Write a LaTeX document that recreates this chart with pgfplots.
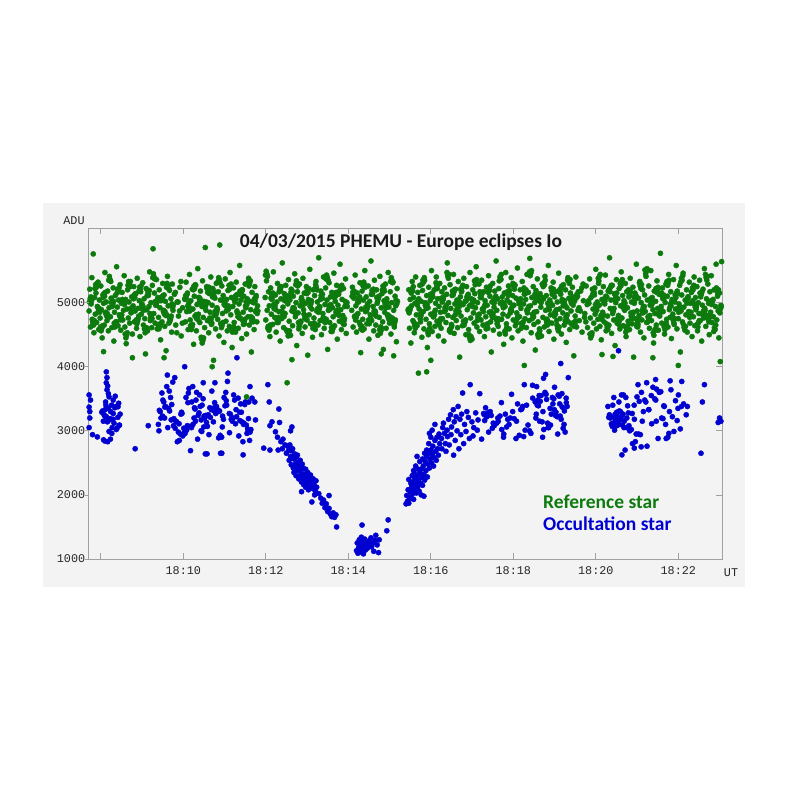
\documentclass[border=0pt]{standalone}
\usepackage{pgfplots}
\pgfplotsset{compat=1.18}
\usepackage{fontspec}
\setmainfont{Carlito}
\newfontfamily\monofont{Liberation Mono}
\definecolor{gstar}{RGB}{12,122,12}
\definecolor{bstar}{RGB}{0,0,208}
\definecolor{panel}{RGB}{243,243,243}
\definecolor{axgray}{RGB}{160,160,160}
\begin{document}
\begin{tikzpicture}[x=1pt,y=1pt]
\fill[white] (0,0) rectangle (790,790);
\fill[panel] (43,203) rectangle (745,587);
\pgfplotsset{commonax/.style={at={(88.7pt,231pt)}, anchor=south west,
 scale only axis, width=633.6pt, height=330.7pt,
 xmin=462.4, xmax=1384, ymin=1000, ymax=6160}}
\begin{axis}[commonax,
 axis line style={axgray, line width=0.8pt},
 xtick={480,600,720,840,960,1080,1200,1320},
 xticklabels={,18:10,18:12,18:14,18:16,18:18,18:20,18:22},
 ytick={1000,2000,3000,4000,5000},
 yticklabels={1000,2000,3000,4000,5000},
 xtick pos=both, tick align=inside, major tick length=6pt,
 ytick pos=left, ytick style={draw=none},
 xtick style={axgray, line width=0.8pt},
 ticklabel style={font=\monofont\fontsize{11.8}{12}\selectfont, text=black!85},
 xticklabel style={yshift=-4pt},
 mark size=2.6pt]
\addplot[only marks, mark=*, bstar, mark options={draw=none, fill=bstar}] coordinates {
(463,3560)(463,3370)(464,3200)(463,3050)(465,3480)(464,3300)(468,2940)(475,2905)(484,2860)(486,2840)
(488,3920)(489,3830)(488,3750)(490,3700)(489,3640)(491,3580)
(494.3,3300)(483.7,3150)(501.9,3380)(488.2,3220)(506.4,3080)(481.5,3290)(497.8,3180)(491.1,3350)(503.6,3040)(485.9,3230)(499.2,3120)(487.4,3400)(508.1,3260)(492.7,3170)(482.6,3310)(496.5,3050)(504.8,3210)(489.6,3140)(500.3,3360)(484.8,3250)(507.2,3090)(493.9,3190)(486.3,3330)(502.5,3020)(498.1,3270)(490.4,3160)(495.7,3400)
(492,2990)(496,2960)(498,3480)(501,3540)(487,3450)(494,2870)(490,2830)(506,3430)(492,3530)(505,3375)
(530,2720)(549,3080)
(577.4,3050)(565.2,3320)(592.8,2980)(571.6,3450)(586.3,3190)(568.9,3590)(598.1,3270)(563.7,3100)(581.5,3520)(574.2,3380)(595.6,2950)(569.8,3230)(589.1,3150)(575.9,3690)(566.4,3300)(600.7,3040)(583.2,3410)(572.8,3200)(587.6,3830)(593.9,3110)(578.5,3350)(584.7,3760)(564.6,3000)(596.4,3260)(570.3,3480)(590.5,3140)(576.8,3870)(580.1,3310)(601.9,2990)(567.5,3200)(594.2,2850)(585.8,3080)(573.1,3370)(599.3,2920)(582.4,3170)(579.6,3620)(588.2,3040)(591.3,2830)(597.5,3290)(602.6,2960)
(631.4,3200)(655.8,2900)(612.3,3450)(688.1,3120)(640.7,3330)(604.9,3010)(673.2,3560)(621.6,3240)(696.4,2850)(648.3,3380)
(617.8,3150)(662.5,3470)(635.1,3070)(681.9,3290)(608.2,3660)(669.7,3180)(627.4,3400)(692.6,2960)(644.9,3310)(614.1,3100)
(659.3,3520)(677.5,3220)(625.8,3000)(638.6,3360)(685.2,3140)(606.7,3440)(651.4,2890)(666.9,3270)(619.3,3600)(694.8,3190)
(642.2,3350)(629.7,3060)(674.6,3480)(610.5,2690)(657.1,3230)(683.4,3420)(633.8,3130)(622.9,3280)(664.2,3770)(698.3,3020)
(646.5,3370)(615.6,3200)(679.8,3510)(637.3,2940)(652.7,3310)(605.8,3080)(690.2,3450)(626.1,3170)(668.4,3260)(641.5,3620)
(611.9,3050)(660.6,3390)(686.7,2830)(630.2,3230)(618.5,3480)(675.9,3110)(649.8,3330)(697.1,2980)(623.7,3560)(639.4,3210)
(663.1,3400)(609.6,3070)(684.5,3290)(654.2,2650)(628.8,3500)(671.3,3150)(616.2,3360)(693.5,3030)(645.6,3440)(636.4,3250)
(680.7,2920)(607.4,3590)(658.4,3180)(624.5,3380)(687.6,3100)(650.9,3300)(613.7,3690)(667.2,2970)(632.6,3240)(695.3,3450)
(643.8,3140)(620.8,2870)(676.8,3330)(656.7,3060)(603.9,3520)(672.4,3200)(634.5,2640)(689.4,3410)(647.1,3270)(626.9,2990)
(661.8,3600)(682.3,3160)(617.1,3340)(653.6,2930)(691.7,3090)
(602,4000)(678,4140)(665,3900)(646,3750)(629,3750)(687,2625)(656,2650)(632,2640)(700,3510)
(697,3690)(704,3450)(705,3170)(723,3720)(725,3450)(726,3080)(729,3140)(734,2985)(739,3340)(740,3130)(758,3060)(756,3000)(717,2730)(726,2700)(738,2700)(737,2900)(742,2830)(745,2870)(748,2780)(752,2760)(744,2720)(750,2650)
(753,2690)(754,2540)(755,2780)(756,2600)(757,2470)(757,2690)(758,2580)(759,2720)(760,2420)(761,2560)(761,2350)(762,2640)(763,2480)(764,2300)(764,2590)(765,2440)(766,2380)(766,2620)(767,2510)(768,2250)(768,2460)(769,2370)(770,2540)(770,2290)(771,2420)(772,2200)(772,2050)(773,2480)(773,2330)(774,2270)(775,2160)(775,2410)(776,2310)(777,2230)(778,2400)(778,2120)(779,2280)(780,2190)(781,2350)(782,2080)(783,2240)(784,2150)(785,2310)(786,2200)(787,1890)(788,2100)(789,2250)(790,2160)(792,2060)(793,2220)(794,2120)(791,2000)
(797,2020)(800,1950)(802,1870)(804,1920)(806,1800)(808,1860)(810,1740)(812,1790)(814,1700)(816,1660)(818,1720)(820,1650)(822,1690)(823,1500)(812,1990)
(852,1130)(853,1250)(854,1090)(855,1180)(856,1300)(857,1110)(858,1220)(859,1340)(860,1150)(861,1260)(862,1080)(863,1200)(864,1310)(865,1140)(866,1240)(868,1170)(870,1280)(871,1210)(873,1330)(874,1190)(876,1250)(877,1120)(879,1290)(880,1370)(882,1220)(884,1100)(885,1300)(860,1530)(896,1440)(898,1610)
(924,1860)(925,1990)(926,1900)(927,2080)(928,1870)(928,2240)(929,1960)(930,2050)(931,2180)(931,1950)(932,2120)(933,2300)(933,2010)(934,2200)(935,1930)(935,2380)(936,2080)(936,2340)(937,2250)(938,2160)(938,2450)(939,2030)(940,2290)(940,2600)(941,2130)(942,2400)(942,2220)(943,2060)(944,2340)(944,2520)(945,2180)(946,2400)(946,2000)(947,2270)(948,2560)(948,2150)(949,2450)(950,2320)(950,1980)(951,2650)(951,2230)(952,2520)(953,2380)(954,2700)(954,2600)(955,2280)(956,2480)(957,2650)(957,2800)(958,2420)(959,2560)(960,2900)(960,2700)(961,2500)(962,2630)(963,2760)(964,2450)(965,2580)(966,2850)(967,2680)(968,2540)(969,2900)(970,2720)(971,2620)(972,2950)(973,2800)(962,3010)(966,3100)(958,2960)
(975.6,2880)(977.3,3050)(976.1,2720)(979.8,2960)(978.4,3120)(981.2,2800)(983.7,3010)(982.1,2680)(985.9,3180)(984.3,2910)(988.6,3250)(986.8,2780)(990.2,3060)(992.7,3330)(989.4,2940)(994.1,3140)(993.2,2620)(996.8,3220)(995.5,2850)(999.7,3380)(998.2,3000)(1002.4,3180)(1000.9,2720)(1004.8,3260)(1006.3,3590)(1003.6,2940)(1009.1,3100)(1012.4,3300)(1007.8,2800)(1014.6,3210)(1011.2,2990)(1017.3,3720)(1019.8,3140)(1016.1,2880)(1022.5,3050)(1025.3,3280)(1021.4,2920)(1028.7,3170)(1031.2,3580)(1027.6,3010)(1033.9,2870)
(1052.3,3080)(1088.7,2930)(1041.6,3220)(1097.2,3010)(1065.8,2900)(1038.4,3160)(1079.1,3300)(1105.6,2960)(1047.9,3240)(1070.3,3060)
(1093.5,3380)(1058.2,3150)(1083.9,2880)(1036.8,3270)(1101.4,3090)(1062.7,3440)(1075.6,3200)(1044.1,2980)(1090.8,3330)(1055.9,3120)
(1068.4,3260)(1108.2,3510)(1049.5,3040)(1081.3,3190)(1039.7,3360)(1095.1,2910)(1060.6,3230)(1073.8,3100)(1086.2,3420)(1042.8,3280)
(1103.7,3000)(1057.4,3200)(1077.5,3570)(1050.8,3120)(1092.4,3340)(1066.1,2950)(1037.9,3250)(1084.6,3150)(1099.3,3400)(1063.2,3020)
(1046.4,3300)(1071.9,3180)
(1131.4,3050)(1114.8,3400)(1148.2,3230)(1122.6,2900)(1156.9,3510)(1118.3,3150)(1139.7,3330)(1126.1,3600)(1152.5,3040)(1111.9,3450)
(1135.2,3260)(1144.6,2950)(1120.4,3550)(1158.3,3380)(1129.8,3120)(1115.7,3480)(1142.1,3290)(1150.7,3580)(1124.3,3020)(1137.6,3420)
(1112.8,3200)(1146.9,3540)(1133.5,3350)(1155.4,2980)(1119.2,3460)(1141.3,3240)(1127.7,3570)(1153.8,3100)(1116.5,3390)(1138.9,3500)
(1149.6,3180)(1123.1,3300)(1145.2,3560)(1130.6,3050)(1157.1,3440)(1113.4,3260)(1136.8,3520)(1121.9,3140)(1151.2,3370)(1128.4,3490)
(1143.7,3220)(1117.6,3550)(1154.3,3310)(1134.1,3090)(1147.5,3420)
(1096,3720)(1108,3710)(1114,3690)(1124,3820)(1127,3880)(1140,3680)(1149,4050)(1160,3830)
(1221.3,3200)(1244.8,3050)(1217.6,3380)(1262.1,2950)(1230.4,3290)(1287.9,3150)(1226.2,3520)(1301.5,3100)(1219.8,3250)(1249.3,3000)
(1236.7,3180)(1277.2,3330)(1223.9,3070)(1311.4,3220)(1232.5,3140)(1255.8,3400)(1290.6,2880)(1228.1,3260)(1318.3,3160)(1240.9,3050)
(1266.4,3600)(1234.2,3310)(1297.7,3190)(1242.6,2700)(1272.8,3450)(1225.5,3120)(1283.1,3680)(1247.4,3280)(1306.2,2960)(1259.9,3530)
(1231.7,3210)(1324.6,3380)(1253.3,2800)(1238.8,3090)(1294.5,3610)(1269.2,3300)(1315.9,3470)(1227.3,3010)(1280.7,3550)(1245.1,3200)
(1304.8,2900)(1261.4,3720)(1333.2,3380)(1222.6,3110)(1287.2,3480)(1274.5,2760)(1239.6,3260)(1320.1,3560)(1251.7,3020)(1298.9,3390)
(1229.4,3160)(1309.3,3640)(1264.8,2940)(1235.9,3300)(1285.6,3500)(1248.2,3080)(1327.7,3420)(1257.5,2830)(1218.9,3210)(1292.3,3600)
(1276.9,3330)(1313.6,2990)(1243.7,3520)(1267.6,3150)(1224.7,3400)(1302.4,2880)(1252.9,3270)(1308.1,3780)(1233.6,3450)(1281.3,3110)
(1319.5,3350)(1258.7,2950)(1237.4,3560)(1295.8,3200)(1271.1,3480)(1322.9,3030)(1246.3,3390)(1288.4,3650)(1229.9,3120)(1307.1,3300)
(1263.2,3460)(1331.5,3250)(1240.2,3560)(1299.6,3380)(1256.1,3180)
(1228.6,3170)(1231.2,3230)(1233.9,3100)(1236.1,3190)(1238.4,3240)(1241.3,3150)(1226.7,3220)(1230.8,3080)
(1238,2625)(1256,2730)(1266,2750)(1287,3800)(1274,3750)(1325,3770)(1233,4250)
(1353,2650)(1355,3450)(1358,3720)(1378,3130)(1380,3200)(1382,3150)
};
\addplot[only marks, mark=*, gstar, mark options={draw=none, fill=gstar}] coordinates {
(463,4870)(464,5210)(465,4620)(466,4980)(467,5390)(468,4710)(469,5760)(470,4530)(471,5080)(472,4820)(473,5150)(474,4690)(475,4940)(476,5320)(477,4580)(478,5040)(479,4760)(480,5260)(481,4890)(482,4450)(483,5120)(484,4990)(485,4650)(486,5470)(487,4830)(488,5010)(489,4720)(490,5180)(491,4560)(492,4920)(493,5350)(494,4780)(495,5070)(496,4610)(497,4960)(498,5230)(499,4400)(500,4850)
(501,5110)(502,4700)(503,5560)(504,4930)(505,4640)(506,5040)(507,4810)(508,5280)(509,4570)(510,4990)(511,5160)(512,4730)(513,4880)(514,5420)(515,4620)(516,5050)(517,4360)(518,4900)(519,5200)(520,4760)(521,5010)(522,4680)(523,5330)(524,4840)(525,5090)(526,4510)(527,4950)(528,5250)(529,4700)(530,4870)(531,5140)(532,4600)(533,5380)(534,4910)(535,4790)(536,5030)(537,4470)(538,5170)(539,4820)(540,4980)(541,5310)(542,4650)(543,5060)(544,4750)(545,4200)(546,5220)(547,4890)(548,4560)(549,5110)(550,4940)(551,5480)(552,4720)(553,5000)(554,4610)(555,5270)(556,5840)(557,4830)(558,5150)(559,4680)(560,4960)
(561,5360)(562,4590)(563,5080)(564,4770)(565,5200)(566,4920)(567,4420)(568,5040)(569,4700)(570,5300)(571,4860)(572,5120)(573,4630)(574,5020)(575,4250)(576,4810)(577,5410)(578,4950)(579,4680)(580,5190)(581,4740)(582,5060)(583,4540)(584,5290)(585,4880)(587,5130)(589,4650)(591,5010)(593,4790)(595,5240)(597,4480)(599,4920)
(602,5060)(603,4700)(604,5320)(605,4860)(606,5150)(607,4580)(608,4990)(609,5440)(610,4730)(611,5030)(612,4640)(613,5210)(614,4900)(615,4350)(616,5100)(617,4790)(618,5270)(619,4560)(620,4970)(621,5530)(622,4820)(623,5080)(624,4690)(625,5180)(626,4460)(627,4940)(628,5340)(629,4770)(630,5020)(631,4610)(632,5860)(633,4880)(634,5250)(635,4720)(636,5000)(637,4530)(638,5140)(639,4850)(640,5400)(641,4660)(642,4960)(643,5220)(644,4100)(645,4800)(646,5070)(647,4590)(648,5300)(649,4920)(650,4740)(651,5170)(652,4480)(653,5900)(654,5040)(655,4670)(656,5260)(657,4830)(658,5110)(659,4380)(660,4990)(661,5370)(662,4710)(663,5050)(664,4560)(665,5190)(666,4900)(667,4630)(668,5470)(669,4810)(670,5080)(671,4300)(672,4940)(673,5230)(674,4690)(675,5010)(676,4540)(677,5320)(678,4870)(679,5130)(680,4600)(681,4980)(682,5580)(683,4760)(684,5040)(685,4440)(686,5200)(687,4850)(688,5100)(689,4670)(690,5290)(691,4920)(692,4510)(693,5060)(694,4780)(695,5380)(696,4650)(697,5020)(698,4890)(699,4230)(700,5160)(701,4740)(702,5000)(703,4580)(704,5250)(705,4860)(706,5110)(707,4700)(708,4950)
(692,3530)(751,3750)(642,4000)(526,4140)(484,4235)(572,4140)(758,4110)
(719,5080)(720,4730)(721,5340)(722,4880)(723,4600)(724,5170)(725,4950)(726,4470)(727,5230)(728,4820)(729,5050)(730,4660)(731,5480)(732,4910)(733,4770)(734,5120)(735,4540)(736,5010)(737,5300)(738,4690)(739,4860)(740,5190)(741,4400)(742,5060)(743,4750)(744,5620)(745,4930)(746,4610)(747,5140)(748,4830)(749,5270)(750,4570)(752,4980)(753,5360)(754,4710)(755,5040)(756,4490)(757,5210)(758,4870)(759,4640)(760,5100)(761,4920)(762,5450)(763,4780)(764,5000)(765,4330)(766,5170)(767,4840)(768,4590)(769,5290)(770,4950)(771,4700)(772,5080)(773,4520)(774,5380)(775,4890)(776,5150)(777,4620)(778,4990)(779,5250)(780,4730)(781,4180)(782,5050)(783,4810)(784,5520)(785,4670)(786,5030)(787,4900)(788,4460)(789,5200)(790,4760)(791,5110)(792,4580)(793,5330)(794,4870)(795,5010)(796,4650)(797,5700)(798,4940)(799,4720)(800,5180)(801,4500)(802,5070)(803,4830)(804,5400)(805,4600)(806,4970)(807,5230)(808,4740)(809,5040)(810,4270)(811,4880)(812,5310)(813,4690)(814,5090)(815,4550)(816,5160)(817,4920)(818,4780)(819,5460)(820,4640)(821,5020)(822,4850)(823,5270)(824,4430)(825,4960)(826,5130)(827,4710)(828,5600)(829,4890)(830,4580)(831,5050)(832,4800)(833,5220)(834,4660)(835,4940)(836,5370)(837,4520)(838,5000)
(845,4880)(846,5240)(847,4620)(848,5070)(849,4780)(850,5430)(851,4950)(852,4540)(853,5150)(854,4830)(855,5010)(856,4690)(857,5310)(858,4220)(859,4900)(860,5180)(861,4740)(862,5040)(863,4590)(864,5500)(865,4860)(866,5090)(867,4670)(868,4980)(869,5260)(870,4430)(871,5020)(872,4810)(873,5650)(874,4720)(875,5130)(876,4940)(877,4560)(878,5350)(879,4870)(880,4650)(881,5200)(882,4990)(883,4490)(884,5080)(885,4770)(886,5410)(887,4620)(888,4920)(889,5140)(890,4700)(891,4270)(892,5030)(893,4850)(894,5290)(895,4600)(896,5060)(897,4800)(898,5470)(899,4930)(900,4680)(901,5170)(902,4510)(903,5000)(904,4760)(905,5320)(906,4880)(907,4620)(908,5100)(909,4950)(910,4390)(911,5220)(888,4200)(906,4170)
(927,4880)(928,5200)(929,4600)(930,5050)(931,4370)(932,4950)(933,5330)(934,4720)(935,5080)(936,4530)(937,4990)(938,5400)(939,4810)(940,4640)(941,5160)(942,3900)(943,4900)(944,5270)(945,4700)(946,5020)(947,4460)(948,5190)(949,4860)(950,4590)(951,5350)(952,4960)(953,4740)(954,5110)(955,4300)(956,4920)(957,5240)(958,4670)(959,5030)(960,4820)(961,5500)(962,4550)(963,5090)(964,4780)(965,5200)(966,4630)(967,4990)(968,5400)(969,4710)(970,5060)(971,4480)(972,4940)(973,5300)(974,4850)(975,4600)(976,5170)(977,4750)(978,5050)(979,4400)(980,5230)(981,4880)(982,4690)(983,5130)(984,5620)(985,4800)(986,5000)(987,4560)(988,5280)(989,4910)(990,4660)(991,5110)(992,4770)(993,5440)(994,4520)(995,4980)(996,5210)(997,4720)(998,5040)(999,4610)(1000,5330)(1001,4860)(1002,4150)(1003,5090)(1004,4790)(1005,5180)(1006,4640)(1007,4970)(1008,5380)(1009,4700)(1010,5020)(1011,4500)(1012,5250)(1013,4890)(1014,5120)(1015,4580)(1016,4950)(1017,5470)(1018,4760)(1019,5060)(1020,4430)(1021,5200)(1022,4840)(1023,4680)(1024,5140)(1025,4920)(1026,5560)(1027,4620)(1028,5000)(1029,4810)(1030,5290)(1031,4550)(1032,5080)(1033,4730)(1034,5350)(1035,4900)(1036,4650)(1037,5170)(1038,4470)(1039,5030)(1040,4780)(1041,5240)(1042,4960)(1043,4600)(1044,5420)(1045,4850)(1046,5100)(1047,4700)(1048,4230)(1049,5010)(1050,5300)(1051,4570)(1052,4930)(1053,5180)(1054,4760)(1055,5650)(1056,4880)(1057,5060)(1058,4630)(1059,5220)(1060,4510)(1061,4990)(1062,5360)(1063,4740)(1064,5090)(1065,4820)(1066,4350)(1067,5150)(1068,4940)(1069,5470)(1070,4670)(1071,5040)(1072,4790)(1073,5260)(1074,4590)(1075,5000)(1076,4870)(1077,5390)(1078,4450)(1079,5110)(1080,4730)(1081,4960)(1082,5280)(1083,4640)(1084,5070)(1085,4840)(1086,5540)(1087,4560)(1088,5020)(1089,4780)(1090,5200)(1091,4910)(1092,4680)(1093,5330)(1094,4400)(1095,4980)(1096,5130)(1097,4750)(1098,5050)(1099,4610)(1100,5440)(1101,4890)(1102,5160)(1103,4720)(1104,5690)(1105,4950)(1106,4530)(1107,5080)(1108,4820)(1109,5250)(1110,4660)(1111,5000)(1112,4260)(1113,5190)(1114,4860)(1115,5370)(1116,4700)(1117,5030)(1118,4590)(1119,5140)(1120,4930)(1121,4480)(1122,5290)(1123,4770)(1124,5060)(1125,4620)(1126,5410)(1127,4880)(1128,5110)(1129,4740)(1130,4990)(1131,5580)(1132,4550)(1133,5040)(1134,4810)(1135,5230)(1136,4680)(1137,4960)(1138,5320)(1139,4430)(1140,5090)(1141,4850)(1142,5170)(1143,4720)(1144,5010)(1145,4600)(1146,5460)(1147,4900)(1148,4750)(1149,5130)(1150,4510)(1151,5050)(1152,4840)(1153,5280)(1154,4650)(1155,4970)(1156,5200)(1157,4380)(1158,4920)(1159,5350)(1160,4700)(1161,5070)(1162,4580)(1163,5150)(1164,4870)(1165,4660)(1166,5240)(1167,4960)(1168,4170)(1169,5020)(1170,4790)(1171,5400)(1172,4620)(1173,5100)(1174,4880)(1176,4720)(1178,5180)(1180,4540)(1182,5030)(1184,4830)(1186,5260)(1188,4610)(1190,4990)(1191,5370)(1192,4760)(1193,5080)(1194,4490)(1195,5210)(1196,4900)(1197,4680)(1198,5120)(1199,4820)(1200,5520)(1201,4590)(1202,5010)(1203,4740)(1204,5300)(1205,4960)(1206,4630)(1207,5160)(1208,4420)(1209,5050)(1210,4850)(1211,5250)(1212,4700)(1213,4980)(1214,5430)(1215,4560)(1216,5090)(1217,4790)(1218,5180)(1219,4650)(1220,5700)(1221,4910)(1222,5040)(1223,4520)(1224,5270)(1225,4870)(1226,4730)(1227,5140)(1228,4330)(1229,5000)(1230,5360)(1231,4680)(1232,5060)(1233,4800)(1234,5220)(1235,4590)(1236,4950)(1237,5480)(1238,4760)(1239,5110)(1240,4640)(1241,5030)(1242,4880)(1243,5300)(1244,4470)(1245,5170)(1246,4920)(1247,4710)(1248,5090)(1249,4580)(1250,5380)(1251,4840)(1252,5010)(1253,4670)(1254,5240)(1255,4150)(1256,4990)(1257,5150)(1258,4750)(1259,5600)(1260,4870)(1261,4620)(1262,5070)(1263,4800)(1264,5330)(1265,4540)(1266,5000)(1267,4730)(1268,5200)(1269,4930)(1270,4450)(1271,5120)(1272,4860)(1273,5410)(1274,4690)(1275,5040)(1276,4780)(1277,5260)(1278,4600)(1279,4960)(1280,5500)(1281,4720)(1282,5080)(1283,4890)(1284,4370)(1285,5180)(1286,4830)(1287,5020)(1288,4650)(1289,5340)(1290,4910)(1291,4570)(1292,5130)(1293,4790)(1294,5770)(1295,4940)(1296,4680)(1297,5230)(1298,4860)(1299,5060)(1300,4510)(1301,5000)(1302,5290)(1303,4740)(1304,5100)(1305,4620)(1306,5440)(1307,4890)(1308,4770)(1309,5170)(1310,4440)(1311,5050)(1312,4820)(1313,5360)(1314,4660)(1315,5010)(1316,4900)(1317,5580)(1318,4590)(1319,5140)(1320,4750)(1321,4980)(1322,5270)(1323,4230)(1324,4870)(1325,5120)(1326,4700)(1327,5460)(1328,4930)(1329,4610)(1330,5040)(1331,4810)(1332,5200)(1333,4540)(1334,5090)(1335,4860)(1336,5320)(1337,4680)(1338,4990)(1339,5160)(1340,4470)(1341,5030)(1342,4780)(1343,5400)(1344,4640)(1345,5080)(1346,4910)(1347,5250)(1348,4560)(1349,5000)(1350,4830)(1351,5350)(1352,4720)(1353,5140)(1354,4400)(1355,4960)(1356,5210)(1357,4760)(1358,5530)(1359,4880)(1360,4630)(1361,5060)(1362,4800)(1363,5290)(1364,4990)(1365,4500)(1366,5170)(1367,4850)(1368,5420)(1369,4690)(1370,5030)(1371,4780)(1372,5200)(1373,4590)(1374,4940)(1375,5600)(1376,4730)(1377,5100)(1378,4870)(1379,4450)(1380,5150)(1381,4080)(1382,4960)(1383,5640)
(960,4100)(954,3920)(1096,4020)(1209,4190)(1225,4160)(1283,4140)(1320,4020)
};
\addplot[only marks, mark=*, gstar, mark options={draw=none, fill=gstar}] coordinates {
(463.5,5010)(464.5,5060)(465.5,5090)(466.5,5030)(467.5,4740)(468.5,4680)(469.5,4650)(470.5,4720)(471.5,5220)(472.5,5280)(473.5,5240)(474.5,5300)(475.5,4930)(476.5,4870)(477.5,4910)(478.5,4850)(479.5,4620)(480.5,4560)(481.5,4600)(482.5,4640)(483.5,5080)(484.5,5140)(485.5,5100)(486.5,5160)(487.5,4850)(488.5,4790)(489.5,4830)(490.5,4770)(491.5,5350)(492.5,5410)(493.5,5360)(494.5,5330)(495.5,5000)(496.5,4940)(497.5,4980)(498.5,5020)(499.5,4680)(500.5,4620)(501.5,4660)(502.5,4700)(503.5,5150)(504.5,5210)(505.5,5170)(506.5,5230)(507.5,4790)(508.5,4730)(509.5,4770)(510.5,4810)(511.5,5050)(512.5,4990)(513.5,5030)(514.5,4970)(515.5,4510)(516.5,4450)(517.5,4490)(518.5,4530)(519.5,5270)(520.5,5330)(521.5,5290)(522.5,5250)(523.5,4910)(524.5,4850)(525.5,4890)(526.5,4930)(527.5,5060)(528.5,5120)(529.5,5080)(530.5,5140)(531.5,4730)(532.5,4670)(533.5,4710)(534.5,4750)(535.5,5180)(536.5,5240)(537.5,5200)(538.5,5260)(539.5,4960)(540.5,4900)(541.5,4940)(542.5,4880)(543.5,4590)(544.5,4530)(545.5,4570)(546.5,4610)(547.5,5110)(548.5,5170)(549.5,5130)(550.5,5190)(551.5,4830)(552.5,4770)(553.5,4810)(554.5,4750)(555.5,5390)(556.5,5450)(557.5,5400)(558.5,5370)(559.5,5020)(560.5,4960)(561.5,5000)(562.5,5040)(563.5,4650)(564.5,4590)(565.5,4630)(566.5,4670)(567.5,5030)(568.5,5090)(569.5,5050)(570.5,5110)(571.5,4880)(572.5,4820)(573.5,4860)(574.5,4800)(575.5,5240)(576.5,5300)(577.5,5260)(578.5,5220)(579.5,4770)(580.5,4710)(581.5,4750)(582.5,4790)(583.5,4980)(584.5,4920)(585.5,4960)(588.5,5160)(590.5,4530)(592.5,5010)(594.5,4870)(596.5,5330)(598.5,4680)
(602.5,5050)(603.5,5110)(604.5,5070)(605.5,5130)(606.5,4950)(607.5,4890)(608.5,4930)(609.5,4870)(610.5,4640)(611.5,4580)(612.5,4620)(613.5,4660)(614.5,5200)(615.5,5260)(616.5,5220)(617.5,5280)(618.5,4810)(619.5,4750)(620.5,4790)(621.5,4730)(622.5,5080)(623.5,5020)(624.5,5060)(625.5,5000)(626.5,4430)(627.5,4370)(628.5,4410)(629.5,4450)(630.5,4930)(631.5,4990)(632.5,4950)(633.5,5010)(634.5,5220)(635.5,5160)(636.5,5200)(637.5,5240)(638.5,4760)(639.5,4700)(640.5,4740)(641.5,4680)(642.5,5090)(643.5,5150)(644.5,5110)(645.5,5170)(646.5,4870)(647.5,4810)(648.5,4850)(649.5,4890)(650.5,5330)(651.5,5390)(652.5,5350)(653.5,5310)(654.5,4670)(655.5,4610)(656.5,4650)(657.5,4690)(658.5,5030)(659.5,4970)(660.5,5010)(661.5,4950)(662.5,4870)(663.5,4930)(664.5,4890)(665.5,4950)(666.5,5270)(667.5,5210)(668.5,5250)(669.5,5290)(670.5,4600)(671.5,4540)(672.5,4580)(673.5,4620)(674.5,5040)(675.5,5100)(676.5,5060)(677.5,5120)(678.5,4840)(679.5,4780)(680.5,4820)(681.5,4760)(682.5,5180)(683.5,5120)(684.5,5160)(685.5,5200)(686.5,4720)(687.5,4660)(688.5,4700)(689.5,4740)(690.5,4950)(691.5,5010)(692.5,4970)(693.5,5030)(694.5,5320)(695.5,5260)(696.5,5300)(697.5,5340)(698.5,4780)(699.5,4720)(700.5,4760)(701.5,4700)(702.5,5000)(703.5,5060)(704.5,5020)(705.5,5080)(706.5,4890)(707.5,4830)(708.5,4870)
(719.5,5430)(720.5,5490)(721.5,5450)(722.5,5410)(723.5,4630)(724.5,4570)(725.5,4610)(726.5,4650)(727.5,5070)(728.5,5130)(729.5,5090)(730.5,5150)(731.5,4970)(732.5,4910)(733.5,4950)(734.5,4890)(735.5,4750)(736.5,4690)(737.5,4730)(738.5,4770)(739.5,5170)(740.5,5230)(741.5,5190)(742.5,5250)(743.5,4860)(744.5,4800)(745.5,4840)(746.5,4780)(747.5,5030)(748.5,5090)(749.5,5050)(750.5,5110)(751.5,4540)(752.5,4480)(753.5,4520)(754.5,4560)(755.5,5100)(756.5,5160)(757.5,5120)(758.5,5180)(759.5,4920)(760.5,4860)(761.5,4900)(762.5,4840)(763.5,5280)(764.5,5340)(765.5,5300)(766.5,5260)(767.5,4690)(768.5,4630)(769.5,4670)(770.5,4710)(771.5,5050)(772.5,4990)(773.5,5030)(774.5,4970)(775.5,4820)(776.5,4760)(777.5,4800)(778.5,4740)(779.5,5140)(780.5,5200)(781.5,5160)(782.5,5220)(783.5,5000)(784.5,4940)(785.5,4980)(786.5,5020)(787.5,4660)(788.5,4600)(789.5,4640)(790.5,4680)(791.5,5220)(792.5,5280)(793.5,5240)(794.5,5200)(795.5,4910)(796.5,4850)(797.5,4890)(798.5,4930)(799.5,5050)(800.5,5110)(801.5,5070)(802.5,5130)(803.5,4770)(804.5,4710)(805.5,4750)(806.5,4690)(807.5,5370)(808.5,5430)(809.5,5390)(810.5,5350)(811.5,4950)(812.5,4890)(813.5,4930)(814.5,4970)(815.5,4610)(816.5,4550)(817.5,4590)(818.5,4630)(819.5,5080)(820.5,5140)(821.5,5100)(822.5,5160)(823.5,4880)(824.5,4820)(825.5,4860)(826.5,4800)(827.5,5190)(828.5,5250)(829.5,5210)(830.5,5270)(831.5,4730)(832.5,4670)(833.5,4710)(834.5,4750)(835.5,5020)(836.5,4960)(837.5,5000)(838.5,4940)
(845.5,5100)(846.5,5160)(847.5,5120)(848.5,5180)(849.5,4790)(850.5,4730)(851.5,4770)(852.5,4810)(853.5,5010)(854.5,5070)(855.5,5030)(856.5,5090)(857.5,4650)(858.5,4590)(859.5,4630)(860.5,4570)(861.5,5260)(862.5,5320)(863.5,5280)(864.5,5240)(865.5,4930)(866.5,4870)(867.5,4910)(868.5,4950)(869.5,4730)(870.5,4670)(871.5,4710)(872.5,4750)(873.5,5130)(874.5,5190)(875.5,5150)(876.5,5210)(877.5,4870)(878.5,4810)(879.5,4850)(880.5,4790)(881.5,5080)(882.5,5020)(883.5,5060)(884.5,5100)(885.5,4580)(886.5,4520)(887.5,4560)(888.5,4600)(889.5,5200)(890.5,5260)(891.5,5220)(892.5,5180)(893.5,4980)(894.5,4920)(895.5,4960)(896.5,5000)(897.5,4810)(898.5,4750)(899.5,4790)(900.5,4730)(901.5,5330)(902.5,5390)(903.5,5350)(904.5,5310)(905.5,4710)(906.5,4650)(907.5,4690)(908.5,4730)(909.5,5040)(910.5,4980)(911.5,5020)
(927.5,4900)(928.5,4840)(929.5,4880)(930.5,4920)(931.5,5150)(932.5,5210)(933.5,5180)(934.5,5250)(935.5,4690)(936.5,4640)(937.5,4600)(938.5,4660)(939.5,5000)(940.5,4960)(941.5,5030)(942.5,5060)(943.5,4810)(944.5,4750)(945.5,4790)(946.5,4830)(947.5,5290)(948.5,5350)(949.5,5320)(950.5,5390)(951.5,5000)(952.5,4950)(953.5,4910)(954.5,4970)(955.5,4540)(956.5,4500)(957.5,4570)(958.5,4600)(959.5,5130)(960.5,5070)(961.5,5110)(962.5,5150)(963.5,4780)(964.5,4840)(965.5,4810)(966.5,4880)(967.5,5310)(968.5,5260)(969.5,5220)(970.5,5280)(971.5,4690)(972.5,4650)(973.5,4720)(974.5,4750)(975.5,5070)(976.5,5010)(977.5,5050)(978.5,5090)(979.5,4860)(980.5,4920)(981.5,4890)(982.5,4960)(983.5,5470)(984.5,5420)(985.5,5380)(986.5,5440)(987.5,4580)(988.5,4540)(989.5,4610)(990.5,4640)(991.5,5180)(992.5,5120)(993.5,5160)(994.5,5200)(995.5,4810)(996.5,4870)(997.5,4840)(998.5,4910)(999.5,5030)(1000.5,4980)(1001.5,4940)(1002.5,5000)(1003.5,5210)(1004.5,5170)(1005.5,5240)(1006.5,5270)(1007.5,4710)(1008.5,4650)(1009.5,4690)(1010.5,4730)(1011.5,5030)(1012.5,5090)(1013.5,5060)(1014.5,5130)(1015.5,4500)(1016.5,4450)(1017.5,4410)(1018.5,4470)(1019.5,4980)(1020.5,4940)(1021.5,5010)(1022.5,5040)(1023.5,5340)(1024.5,5280)(1025.5,5320)(1026.5,5360)(1027.5,4720)(1028.5,4780)(1029.5,4750)(1030.5,4820)(1031.5,5170)(1032.5,5120)(1033.5,5080)(1034.5,5140)(1035.5,4900)(1036.5,4860)(1037.5,4930)(1038.5,4960)(1039.5,4650)(1040.5,4590)(1041.5,4630)(1042.5,4670)(1043.5,5160)(1044.5,5220)(1045.5,5190)(1046.5,5260)(1047.5,4860)(1048.5,4810)(1049.5,4770)(1050.5,4830)(1051.5,5040)(1052.5,5000)(1053.5,5070)(1054.5,5100)(1055.5,4730)(1056.5,4670)(1057.5,4710)(1058.5,4750)(1059.5,5340)(1060.5,5400)(1061.5,5370)(1062.5,5440)(1063.5,5010)(1064.5,4960)(1065.5,4920)(1066.5,4980)(1067.5,4550)(1068.5,4510)(1069.5,4580)(1070.5,4610)(1071.5,5170)(1072.5,5110)(1073.5,5150)(1074.5,5190)(1075.5,4840)(1076.5,4900)(1077.5,4870)(1078.5,4940)(1079.5,5300)(1080.5,5250)(1081.5,5210)(1082.5,5270)(1083.5,4720)(1084.5,4680)(1085.5,4750)(1086.5,4780)(1087.5,5040)(1088.5,4980)(1089.5,5020)(1090.5,5060)(1091.5,4600)(1092.5,4660)(1093.5,4630)(1094.5,4700)(1095.5,5230)(1096.5,5180)(1097.5,5140)(1098.5,5200)(1099.5,4880)(1100.5,4840)(1101.5,4910)(1102.5,4940)(1103.5,5480)(1104.5,5420)(1105.5,5460)(1106.5,5500)(1107.5,4750)(1108.5,4810)(1109.5,4780)(1110.5,4850)(1111.5,5130)(1112.5,5080)(1113.5,5040)(1114.5,5100)(1115.5,4500)(1116.5,4460)(1117.5,4530)(1118.5,4560)(1119.5,5060)(1120.5,5000)(1121.5,5040)(1122.5,5080)(1123.5,5250)(1124.5,5310)(1125.5,5280)(1126.5,5350)(1127.5,4740)(1128.5,4690)(1129.5,4650)(1130.5,4710)(1131.5,4930)(1132.5,4890)(1133.5,4960)(1134.5,4990)(1135.5,5190)(1136.5,5130)(1137.5,5170)(1138.5,5210)(1139.5,4790)(1140.5,4850)(1141.5,4820)(1142.5,4890)(1143.5,4650)(1144.5,4600)(1145.5,4560)(1146.5,4620)(1147.5,5200)(1148.5,5160)(1149.5,5230)(1150.5,5260)(1151.5,5010)(1152.5,4950)(1153.5,4990)(1154.5,5030)(1155.5,4710)(1156.5,4770)(1157.5,4740)(1158.5,4810)(1159.5,5390)(1160.5,5340)(1161.5,5300)(1162.5,5360)(1163.5,5030)(1164.5,4990)(1165.5,5060)(1166.5,5090)(1167.5,4690)(1168.5,4630)(1169.5,4670)(1170.5,4710)(1171.5,5070)(1172.5,5130)(1173.5,5100)(1174.5,5170)(1175.5,4920)(1177.5,4870)(1179.5,5230)(1181.5,5290)(1183.5,4770)(1185.5,4700)(1187.5,4970)(1189.5,5030)(1191.5,4510)(1192.5,4450)(1193.5,4490)(1194.5,4530)(1195.5,5130)(1196.5,5190)(1197.5,5160)(1198.5,5230)(1199.5,4970)(1200.5,4920)(1201.5,4880)(1202.5,4940)(1203.5,5380)(1204.5,5340)(1205.5,5410)(1206.5,5440)(1207.5,4800)(1208.5,4740)(1209.5,4780)(1210.5,4820)(1211.5,5000)(1212.5,5060)(1213.5,5030)(1214.5,5100)(1215.5,4670)(1216.5,4620)(1217.5,4580)(1218.5,4640)(1219.5,5210)(1220.5,5170)(1221.5,5240)(1222.5,5270)(1223.5,4890)(1224.5,4830)(1225.5,4870)(1226.5,4910)(1227.5,5050)(1228.5,5110)(1229.5,5080)(1230.5,5150)(1231.5,4750)(1232.5,4700)(1233.5,4660)(1234.5,4720)(1235.5,5300)(1236.5,5260)(1237.5,5330)(1238.5,5360)(1239.5,4970)(1240.5,4910)(1241.5,4950)(1242.5,4990)(1243.5,4540)(1244.5,4600)(1245.5,4570)(1246.5,4640)(1247.5,5200)(1248.5,5150)(1249.5,5110)(1250.5,5170)(1251.5,4790)(1252.5,4750)(1253.5,4820)(1254.5,4850)(1255.5,5090)(1256.5,5030)(1257.5,5070)(1258.5,5110)(1259.5,4630)(1260.5,4690)(1261.5,4660)(1262.5,4730)(1263.5,5310)(1264.5,5260)(1265.5,5220)(1266.5,5280)(1267.5,4880)(1268.5,4840)(1269.5,4910)(1270.5,4940)(1271.5,5510)(1272.5,5450)(1273.5,5490)(1274.5,5530)(1275.5,4700)(1276.5,4760)(1277.5,4730)(1278.5,4800)(1279.5,5060)(1280.5,5010)(1281.5,4970)(1282.5,5030)(1283.5,4530)(1284.5,4490)(1285.5,4560)(1286.5,4590)(1287.5,5220)(1288.5,5160)(1289.5,5200)(1290.5,5240)(1291.5,4810)(1292.5,4870)(1293.5,4840)(1294.5,4910)(1295.5,5150)(1296.5,5100)(1297.5,5060)(1298.5,5120)(1299.5,4620)(1300.5,4580)(1301.5,4650)(1302.5,4680)(1303.5,5330)(1304.5,5270)(1305.5,5310)(1306.5,5350)(1307.5,4920)(1308.5,4980)(1309.5,4950)(1310.5,5020)(1311.5,4780)(1312.5,4730)(1313.5,4690)(1314.5,4750)(1315.5,5120)(1316.5,5080)(1317.5,5150)(1318.5,5180)(1319.5,4910)(1320.5,4850)(1321.5,4890)(1322.5,4930)(1323.5,5320)(1324.5,5380)(1325.5,5350)(1326.5,5420)(1327.5,4660)(1328.5,4610)(1329.5,4570)(1330.5,4630)(1331.5,5030)(1332.5,4990)(1333.5,5060)(1334.5,5090)(1335.5,4830)(1336.5,4770)(1337.5,4810)(1338.5,4850)(1339.5,5170)(1340.5,5230)(1341.5,5200)(1342.5,5270)(1343.5,4980)(1344.5,4930)(1345.5,4890)(1346.5,4950)(1347.5,4660)(1348.5,4620)(1349.5,4690)(1350.5,4720)(1351.5,5150)(1352.5,5090)(1353.5,5130)(1354.5,5170)(1355.5,4810)(1356.5,4870)(1357.5,4840)(1358.5,4910)(1359.5,5440)(1360.5,5390)(1361.5,5350)(1362.5,5410)(1363.5,4740)(1364.5,4700)(1365.5,4770)(1366.5,4800)(1367.5,5030)(1368.5,4970)(1369.5,5010)(1370.5,5050)(1371.5,4550)(1372.5,4610)(1373.5,4580)(1374.5,4650)(1375.5,5230)(1376.5,5180)(1377.5,5140)(1378.5,5200)(1379.5,4880)(1380.5,4840)(1381.5,4910)(1382.5,4940)
};
\end{axis}
\begin{axis}[commonax, axis line style={draw=none}, xtick=\empty,
 ytick={1000,2000,3000,4000,5000}, yticklabels={}, ytick pos=left,
 tick align=outside, major tick length=4pt, ytick style={axgray, line width=0.8pt}]
\end{axis}
\begin{axis}[commonax, axis line style={draw=none}, xtick=\empty,
 ytick={1000,2000,3000,4000,5000}, yticklabels={}, ytick pos=right,
 tick align=inside, major tick length=6pt, ytick style={axgray, line width=0.8pt}]
\end{axis}
\node[font=\monofont\fontsize{11.8}{12}\selectfont, text=black!85] at (74,569) {ADU};
\node[font=\monofont\fontsize{11.8}{12}\selectfont, text=black!85] at (731,217.5) {UT};
\node[font=\bfseries\fontsize{19.5}{20}\selectfont, anchor=base, text=black!90] at (401,542) {04/03/2015 PHEMU - Europe eclipses Io};
\node[font=\bfseries\fontsize{19.5}{20}\selectfont, anchor=base west, inner sep=0pt, text=gstar] at (543,281) {Reference star};
\node[font=\bfseries\fontsize{19.5}{20}\selectfont, anchor=base west, inner sep=0pt, text=bstar] at (543,259) {Occultation star};
\end{tikzpicture}
\end{document}
